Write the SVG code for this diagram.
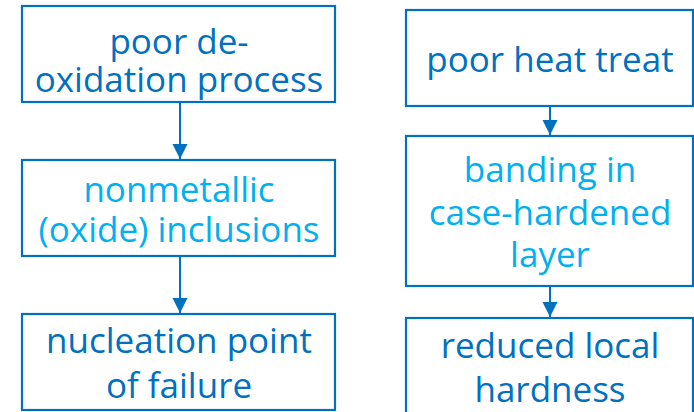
<svg xmlns="http://www.w3.org/2000/svg" width="694" height="412" viewBox="0 0 694 412">
<defs>
<style>
.box{fill:#fff;stroke:#0070C0;stroke-width:2.2}
.t{font-family:"Open Sans","Noto Sans",sans-serif;font-size:35px;text-anchor:middle}
.d{fill:#0070C0}
.l{fill:#00B0F0}
.c{stroke:#0070C0;stroke-width:2;fill:none}
</style>
<marker id="ah" markerUnits="userSpaceOnUse" markerWidth="16" markerHeight="17" refX="15" refY="7.5" orient="auto">
<path d="M0,0 L15,7.5 L0,15 Z" fill="#0070C0"/>
</marker>
</defs>
<g id="connectors">
<line class="c" x1="180" y1="103" x2="180" y2="159" marker-end="url(#ah)"/>
<line class="c" x1="180" y1="257" x2="180" y2="313" marker-end="url(#ah)"/>
<line class="c" x1="550" y1="107" x2="550" y2="135" marker-end="url(#ah)"/>
<line class="c" x1="550" y1="287" x2="550" y2="317" marker-end="url(#ah)"/>
</g>
<g id="n1"><rect class="box" x="22" y="6" width="313" height="96"/>
<text class="t d" x="179" y="54">poor de-</text>
<text class="t d" x="179" y="92">oxidation process</text></g>
<g id="n2"><rect class="box" x="22" y="160" width="313" height="96"/>
<text class="t l" x="179" y="202">nonmetallic</text>
<text class="t l" x="179" y="242">(oxide) inclusions</text></g>
<g id="n3"><rect class="box" x="22" y="314" width="313" height="96"/>
<text class="t d" x="179" y="353">nucleation point</text>
<text class="t d" x="179" y="398">of failure</text></g>
<g id="n4"><rect class="box" x="406" y="10" width="287" height="96"/>
<text class="t d" x="550" y="72">poor heat treat</text></g>
<g id="n5"><rect class="box" x="406" y="136" width="287" height="150"/>
<text class="t l" x="550" y="182">banding in</text>
<text class="t l" x="550" y="225">case-hardened</text>
<text class="t l" x="550" y="267">layer</text></g>
<g id="n6"><rect class="box" x="406" y="318" width="287" height="110"/>
<text class="t d" x="550" y="358">reduced local</text>
<text class="t d" x="550" y="402">hardness</text></g>
</svg>
